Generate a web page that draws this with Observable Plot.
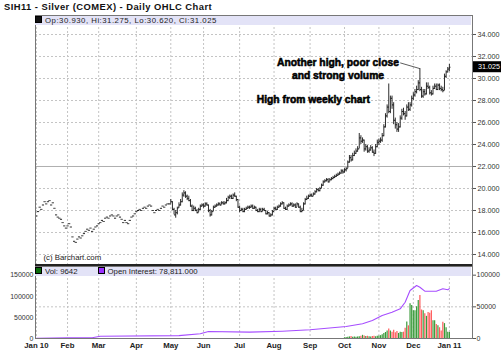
<!DOCTYPE html>
<html><head><meta charset="utf-8">
<script src="https://cdn.jsdelivr.net/npm/d3@7"></script>
<script src="https://cdn.jsdelivr.net/npm/@observablehq/plot@0.6"></script>
<style>
body{margin:0;background:#fff;font-family:"Liberation Sans",Arial,sans-serif;}
#wrap{position:relative;width:502px;height:353px;overflow:hidden;background:#fff}
#wrap svg{position:absolute;left:0;overflow:visible}
.title{position:absolute;left:4px;top:1px;font-size:9.4px;letter-spacing:0.45px;font-weight:bold;color:#111;white-space:nowrap}
.band{position:absolute;left:35px;width:436px;background:#e3e3f7;font-size:7.8px;color:#222;white-space:nowrap}
.sq{display:inline-block;width:5px;height:5px;margin-right:3px;vertical-align:0px;border:0.5px solid #000}
</style></head><body><div id="wrap"></div>
<script>
// ---------- data ----------
const firstDay = "2010-01-04", lastDay = "2011-01-03";
const holidays = ["2010-01-18","2010-02-15","2010-04-02","2010-05-31","2010-07-05","2010-09-06","2010-11-25","2010-12-24"];
const open = [
17.5,17.9,18.3,18.1,18.5, 18.8,18.6,18.8,18.9,18.5, 18.7,18.2,17.6,17.4, 17.3,17.2,16.9,16.6,16.4,
16.6,16.8,16.5,15.6,15.2, 15.1,15.4,15.6,15.5,15.7, 15.9,16.1,16.3,16.2, 16.4,16.1,16.3,16.5,16.6,
16.8,16.9,17.1,17.0,17.3, 17.4,17.3,17.5,17.6,17.5, 17.3,17.5,17.6,17.4,17.2, 16.9,17.1,16.9,16.8,17.1,
17.4,17.5,17.7,17.9, 18.0,18.1,18.0,18.2,18.3, 18.2,18.4,18.5,18.4,18.0, 17.8,18.0,18.1,18.0,18.2,
18.4,18.3,18.5,18.6,18.6, 18.6,18.8,18.1,17.6,17.8, 18.3,18.5,18.8,19.4,19.6, 19.3,19.1,18.9,18.4,18.0,
18.2,18.0,17.8,18.1,18.4, 18.5,18.4,18.6,18.5, 18.0,17.6,17.9,18.3,18.4, 18.5,18.6,18.5,18.7,18.6,
18.7,18.9,19.2,19.3,19.1, 19.4,19.3,19.0,18.3,18.0, 18.1,17.9,18.1,18.2, 18.3,18.3,18.4,18.2,18.3,
18.0,17.9,18.1,17.9,18.1, 18.0,17.7,17.8,17.5,17.6, 17.9,18.2,18.1,18.3,18.4, 18.6,18.7,18.2,18.1,18.4,
18.5,18.6,18.4,18.5,18.3, 18.6,18.3,17.9,18.0,18.6, 19.0,19.1,19.3,19.4,19.3, 19.5,19.7,19.9,19.8,
20.0,20.3,20.6,20.7,20.8, 20.6,20.8,20.9,21.0,21.1, 21.2,21.3,21.4,21.6,21.5, 21.7,21.8,22.4,22.8,22.6,
23.0,23.2,23.4,23.6,24.6, 24.3,24.4,23.6,23.8,23.4, 23.5,23.7,23.3,23.2,23.8, 24.2,24.3,24.4,24.8,25.6,
26.6,27.4,27.0,28.2,27.6, 26.2,25.8,25.4,25.6,26.4, 27.0,26.8,26.6,27.4, 27.2,27.6,28.2,28.5,28.8,
29.0,29.6,29.0,28.4,28.8, 28.6,29.3,29.2,28.7,28.6, 29.1,29.3,29.0,29.4, 29.1,29.0,28.9,30.2,30.6, 30.93];
const high = [
17.5,17.9,18.3,18.1,18.5, 18.8,18.6,18.8,18.9,18.5, 18.7,18.2,17.6,17.4, 17.3,17.2,16.9,16.6,16.4,
16.6,16.8,16.5,15.6,15.2, 15.1,15.4,15.6,15.5,15.7, 15.9,16.1,16.3,16.2, 16.4,16.1,16.3,16.5,16.6,
16.8,16.9,17.1,17.0,17.3, 17.4,17.3,17.5,17.6,17.5, 17.3,17.5,17.6,17.4,17.2, 16.9,17.1,16.9,16.8,17.1,
17.4,17.5,17.7,17.9, 18.0,18.1,18.0,18.2,18.3, 18.2,18.4,18.5,18.4,18.0, 17.8,18.0,18.1,18.0,18.2,
18.4,18.3,18.5,18.6,18.6, 19.0,18.8,18.2,18.0,18.3, 18.7,19.0,19.6,19.8,19.7, 19.4,19.3,19.0,18.5,18.4,
18.3,18.1,18.2,18.5,18.6, 18.6,18.7,18.7,18.5, 18.1,18.0,18.4,18.5,18.6, 18.7,18.7,18.8,18.8,18.8,
19.1,19.3,19.4,19.4,19.5, 19.6,19.3,19.0,18.4,18.2, 18.2,18.2,18.3,18.4, 18.4,18.5,18.5,18.4,18.3,
18.1,18.2,18.2,18.2,18.2, 18.0,17.9,17.8,17.7,18.0, 18.3,18.3,18.4,18.5,18.7, 18.8,18.7,18.3,18.5,18.6,
18.7,18.7,18.6,18.6,18.7, 18.6,18.4,18.2,18.7,19.1, 19.3,19.4,19.5,19.5,19.6, 19.8,20.0,20.0,20.1,
20.4,20.7,20.8,20.9,20.9, 20.9,21.0,21.1,21.2,21.3, 21.4,21.5,21.7,21.7,21.8, 21.9,22.5,23.0,23.0,23.2,
23.4,23.6,23.8,25.0,24.8, 24.6,24.4,24.0,23.9,23.7, 23.9,23.8,23.5,24.0,24.4, 24.5,24.6,25.0,25.8,26.8,
27.6,29.5,28.4,28.4,27.8, 26.4,26.0,25.9,26.6,27.2, 27.3,27.0,27.6,27.8, 27.8,28.4,28.7,29.0,29.3,
29.8,30.9,29.2,29.0,29.0, 29.6,29.6,29.3,28.9,29.3, 29.5,29.5,29.5,29.5, 29.3,29.2,30.4,30.7,31.0, 31.275];
const low = [
17.5,17.9,18.3,18.1,18.5, 18.8,18.6,18.8,18.9,18.5, 18.7,18.2,17.6,17.4, 17.3,17.2,16.9,16.6,16.4,
16.6,16.8,16.5,15.6,15.2, 15.1,15.4,15.6,15.5,15.7, 15.9,16.1,16.3,16.2, 16.4,16.1,16.3,16.5,16.6,
16.8,16.9,17.1,17.0,17.3, 17.4,17.3,17.5,17.6,17.5, 17.3,17.5,17.6,17.4,17.2, 16.9,17.1,16.9,16.8,17.1,
17.4,17.5,17.7,17.9, 18.0,18.1,18.0,18.2,18.3, 18.2,18.4,18.5,18.4,18.0, 17.8,18.0,18.1,18.0,18.2,
18.4,18.3,18.5,18.6,18.6, 18.6,18.0,17.6,17.3,17.6, 18.2,18.4,18.7,19.2,19.1, 18.9,18.8,18.3,17.9,17.9,
17.9,17.7,17.8,18.0,18.3, 18.2,18.3,18.4,17.8, 17.4,17.5,17.9,18.2,18.3, 18.4,18.4,18.5,18.5,18.5,
18.6,18.8,19.0,19.0,19.0, 19.2,18.8,18.2,17.8,17.9, 17.8,17.8,18.0,18.1, 18.1,18.2,18.1,18.1,17.9,
17.8,17.8,17.8,17.9,17.9, 17.6,17.6,17.4,17.4,17.5, 17.9,18.0,18.0,18.2,18.3, 18.5,18.1,18.0,18.0,18.3,
18.4,18.3,18.3,18.2,18.3, 18.2,17.8,17.8,18.0,18.5, 18.9,19.0,19.2,19.2,19.3, 19.4,19.6,19.7,19.7,
20.0,20.2,20.5,20.6,20.5, 20.6,20.7,20.8,20.9,21.0, 21.1,21.2,21.3,21.3,21.4, 21.5,21.8,22.3,22.4,22.5,
22.9,23.1,23.3,23.6,24.0, 24.1,23.3,23.4,23.2,23.2, 23.4,23.2,22.9,23.1,23.7, 23.9,24.1,24.2,24.7,25.5,
26.4,26.8,26.8,27.2,25.8, 25.4,25.1,25.1,25.5,26.2, 26.6,26.2,26.5,27.0, 27.0,27.4,28.0,28.3,28.6,
28.9,28.8,28.2,28.2,28.4, 28.5,29.0,28.5,28.4,28.5, 29.0,28.9,28.9,28.9, 28.8,28.7,28.9,30.0,30.5, 30.62];
const close = [
17.5,17.9,18.3,18.1,18.5, 18.8,18.6,18.8,18.9,18.5, 18.7,18.2,17.6,17.4, 17.3,17.2,16.9,16.6,16.4,
16.6,16.8,16.5,15.6,15.2, 15.1,15.4,15.6,15.5,15.7, 15.9,16.1,16.3,16.2, 16.4,16.1,16.3,16.5,16.6,
16.8,16.9,17.1,17.0,17.3, 17.4,17.3,17.5,17.6,17.5, 17.3,17.5,17.6,17.4,17.2, 16.9,17.1,16.9,16.8,17.1,
17.4,17.5,17.7,17.9, 18.0,18.1,18.0,18.2,18.3, 18.2,18.4,18.5,18.4,18.0, 17.8,18.0,18.1,18.0,18.2,
18.4,18.3,18.5,18.6,18.6, 18.8,18.1,17.6,17.8,18.2, 18.5,18.8,19.4,19.6,19.3, 19.1,18.9,18.4,18.0,18.2,
18.0,17.8,18.1,18.4,18.5, 18.4,18.6,18.5,18.0, 17.6,17.9,18.3,18.4,18.5, 18.6,18.5,18.7,18.6,18.7,
18.9,19.2,19.3,19.1,19.4, 19.3,19.0,18.3,18.0,18.1, 17.9,18.1,18.2,18.3, 18.3,18.4,18.2,18.3,18.0,
17.9,18.1,17.9,18.1,18.0, 17.7,17.8,17.5,17.6,17.9, 18.2,18.1,18.3,18.4,18.6, 18.7,18.2,18.1,18.4,18.5,
18.6,18.4,18.5,18.3,18.6, 18.3,17.9,18.0,18.6,19.0, 19.1,19.3,19.4,19.3,19.5, 19.7,19.9,19.8,20.0,
20.3,20.6,20.7,20.8,20.6, 20.8,20.9,21.0,21.1,21.2, 21.3,21.4,21.6,21.5,21.7, 21.8,22.4,22.8,22.6,23.0,
23.2,23.4,23.6,24.6,24.3, 24.4,23.6,23.8,23.4,23.5, 23.7,23.3,23.2,23.8,24.2, 24.3,24.4,24.8,25.6,26.6,
27.4,27.0,28.2,27.6,26.2, 25.8,25.4,25.6,26.4,27.0, 26.8,26.6,27.4,27.2, 27.6,28.2,28.5,28.8,29.0,
29.6,29.0,28.4,28.8,28.6, 29.3,29.2,28.7,28.6,29.1, 29.3,29.0,29.4,29.1, 29.0,28.9,30.2,30.6,30.8, 31.025];
const monthLabels = ["Jan 10","Feb","Mar","Apr","May","Jun","Jul","Aug","Sep","Oct","Nov","Dec","Jan 11"];
const priceTicks = [14,16,18,20,22,24,26,28,30,32,34];
const volStart = "2010-10-01";
const volume = [
1200,1500,1800,2500,3000,2000,2400,2000,2500,2800,3500,5000,4000,3000,3500,2600,2200,3000,3400,2800,3600,
4000,4500,6000,8000,9500,12000,15000,12000,10000,13000,9000,11000,8000,10000,9500,
10000,16000,26000,20000,55000,52000,44000,44000,50000,60000,68000,45000,44000,39000,35000,41000,40000,44000,
28000,28000,22000,20000,17000,12000,25700,23500,17000,10000,9642];
const oiDates = ["2010-01-04","2010-02-01","2010-02-23","2010-03-02","2010-05-10","2010-05-27","2010-06-04","2010-07-12",
  "2010-08-09","2010-09-01","2010-10-04","2010-10-18","2010-10-26","2010-11-03","2010-11-11","2010-11-18","2010-11-23",
  "2010-11-29","2010-12-03","2010-12-07","2010-12-10","2010-12-21","2010-12-28","2010-12-31","2011-01-03"];
const oiValues = [500,1100,1300,3600,4500,7400,11000,10000,11500,13700,19000,23200,28400,36300,41500,46900,57300,
  75800,83700,81000,74700,74700,78500,77000,78811];
const volLeftTicks = [0,50000,100000,150000];
const volRightTicks = [0,50000,100000];

// ---------- derived ----------
const days = [];
for (let t = new Date(firstDay + "T00:00Z").getTime(); t <= new Date(lastDay + "T00:00Z").getTime(); t += 864e5) {
  const d = new Date(t), s = d.toISOString().slice(0, 10), wd = d.getUTCDay();
  if (wd !== 0 && wd !== 6 && !holidays.includes(s)) days.push(s);
}
const bars = days.map((d, i) => ({i, date: d, o: open[i], h: high[i], l: low[i], c: close[i]}));
const monthTicks = days.map((d, i) => (i === 0 || d.slice(0, 7) !== days[i - 1].slice(0, 7)) ? i : null).filter(v => v !== null);
const v0 = days.indexOf(volStart);
const vols = volume.map((v, k) => ({i: v0 + k, v, up: bars[v0 + k].c >= bars[v0 + k].o}));
const oi = oiDates.map((d, k) => ({i: days.indexOf(d), v: oiValues[k]}));
const last = bars[bars.length - 1];
const xDomain = [-0.55, 266.1];
const font = "'Liberation Sans', Arial, sans-serif";
const grid = {stroke: "#c4c4c4", strokeOpacity: 1, strokeDasharray: "2,2"};

// ---------- price panel ----------
const peakIdx = days.indexOf("2010-12-07");
function priceTag(index, scales, values, dims) {
  const y = scales.y(last.c), x0 = scales.x(xDomain[1]);
  const g = d3.create("svg:g");
  g.append("rect").attr("x", x0 + 1).attr("y", y - 5.5).attr("width", 28).attr("height", 11).attr("fill", "#000");
  g.append("text").attr("x", x0 + 28).attr("y", y).attr("dy", "0.35em").attr("fill", "#fff").attr("text-anchor", "end")
    .attr("font-size", 7.2).attr("font-family", font).text(last.c.toFixed(3));
  return g.node();
}
const annot = {fontWeight: "bold", fontSize: 10.3, fill: "#000", stroke: "#000", strokeWidth: 0.55};
const price = Plot.plot({
  width: 502, height: 268, marginTop: 15, marginBottom: 3, marginLeft: 35, marginRight: 30,
  style: {fontFamily: font, background: "transparent", overflow: "visible"},
  x: {domain: xDomain, axis: null},
  y: {domain: [13, 35.727], axis: null},
  marks: [
    Plot.gridX(monthTicks, grid),
    Plot.gridY(priceTicks, grid),
    Plot.ruleY([22], {stroke: "#b0b0b0", strokeWidth: 1}),
    Plot.ruleX(bars, {x: "i", y1: "l", y2: "h", stroke: "#222", strokeWidth: 0.95}),
    Plot.link(bars, {x1: d => d.i - 0.65, x2: "i", y1: "o", y2: "o", stroke: "#222", strokeWidth: 1}),
    Plot.link(bars, {x1: "i", x2: d => d.i + 0.65, y1: "c", y2: "c", stroke: "#222", strokeWidth: 1}),
    Plot.axisY(priceTicks, {anchor: "right", label: null, tickSize: 3, tickPadding: 2, fontSize: 7.2, tickFormat: d => d.toFixed(3), stroke: "#555", fill: "#333"}),
    Plot.text(["Another high, poor close"], {x: days.indexOf("2010-09-27"), y: 31.48, ...annot}),
    Plot.text(["and strong volume"], {x: days.indexOf("2010-09-27"), y: 30.27, ...annot}),
    Plot.text(["High from weekly chart"], {x: days.indexOf("2010-09-03"), y: 28.09, ...annot}),
    Plot.link([0], {x1: days.indexOf("2010-11-18"), y1: 31.42, x2: peakIdx, y2: high[peakIdx], stroke: "#333", strokeWidth: 0.8}),
    Plot.text(["(c) Barchart.com"], {frameAnchor: "bottom-left", dx: 8, dy: -6, fontSize: 7.8, fill: "#222", textAnchor: "start"}),
    Plot.frame({stroke: "#777"}),
    priceTag
  ]
});
price.style.top = "0px";

// ---------- volume panel ----------
const vol = Plot.plot({
  width: 502, height: 88, marginTop: 1, marginBottom: 15, marginLeft: 35, marginRight: 30,
  style: {fontFamily: font, background: "transparent", overflow: "visible"},
  x: {domain: xDomain, axis: null},
  y: {domain: [0, 113700], axis: null},
  marks: [
    Plot.gridX(monthTicks, grid),
    Plot.gridY([50000], grid),
    Plot.ruleX(vols, {x: "i", y1: 0, y2: "v", stroke: d => d.up ? "#3a9a3a" : "#ff5a5a", strokeWidth: 1.2}),
    Plot.line(oi, {x: "i", y: "v", stroke: "#a64dff", strokeWidth: 1.1}),
    Plot.axisX(monthTicks, {anchor: "bottom", label: null, tickSize: 0, tickPadding: 4, fontSize: 7.8, fontWeight: "bold", fill: "#222",
      tickFormat: d => monthLabels[monthTicks.indexOf(d)]}),
    Plot.axisY(volRightTicks, {anchor: "right", label: null, tickSize: 3, tickPadding: 1, fontSize: 7, stroke: "#555", fill: "#333", tickFormat: d => String(d)}),
    Plot.axisY(volLeftTicks.map(v => v / 1.5), {anchor: "left", label: null, tickSize: 0, tickPadding: 2, fontSize: 7, fill: "#333",
      tickFormat: d => String(Math.round(d * 1.5))}),
    Plot.ruleY([0], {stroke: "#555"}),
    Plot.frame({stroke: "#777"})
  ]
});
vol.style.top = "265px";

// ---------- assemble ----------
const wrap = document.getElementById("wrap");
wrap.append(price, vol);
const title = document.createElement("div");
title.className = "title"; title.textContent = "SIH11 - Silver (COMEX) - Daily OHLC Chart";
const band1 = document.createElement("div");
band1.className = "band"; band1.style.top = "16px"; band1.style.height = "9px"; band1.style.lineHeight = "9px";
band1.innerHTML = `<span class="sq" style="background:#111"></span><span style="letter-spacing:0.5px">Op:${last.o.toFixed(3)}, Hi:${last.h.toFixed(3)}, Lo:${last.l.toFixed(3)}, Cl:${last.c.toFixed(3)}</span>`;
const band2 = document.createElement("div");
band2.className = "band"; band2.style.top = "267px"; band2.style.height = "9px"; band2.style.lineHeight = "9px";
band2.innerHTML = `<span class="sq" style="background:#0a6b0a"></span>Vol: ${volume[volume.length - 1]}<span style="display:inline-block;width:20px"></span><span class="sq" style="background:#9b30ff"></span>Open Interest: 78,811.000`;
const sep = document.createElement("div");
sep.style.cssText = "position:absolute;left:35px;top:264px;width:437px;height:2px;background:#222";
wrap.append(title, band1, band2, sep);
</script></body></html>
